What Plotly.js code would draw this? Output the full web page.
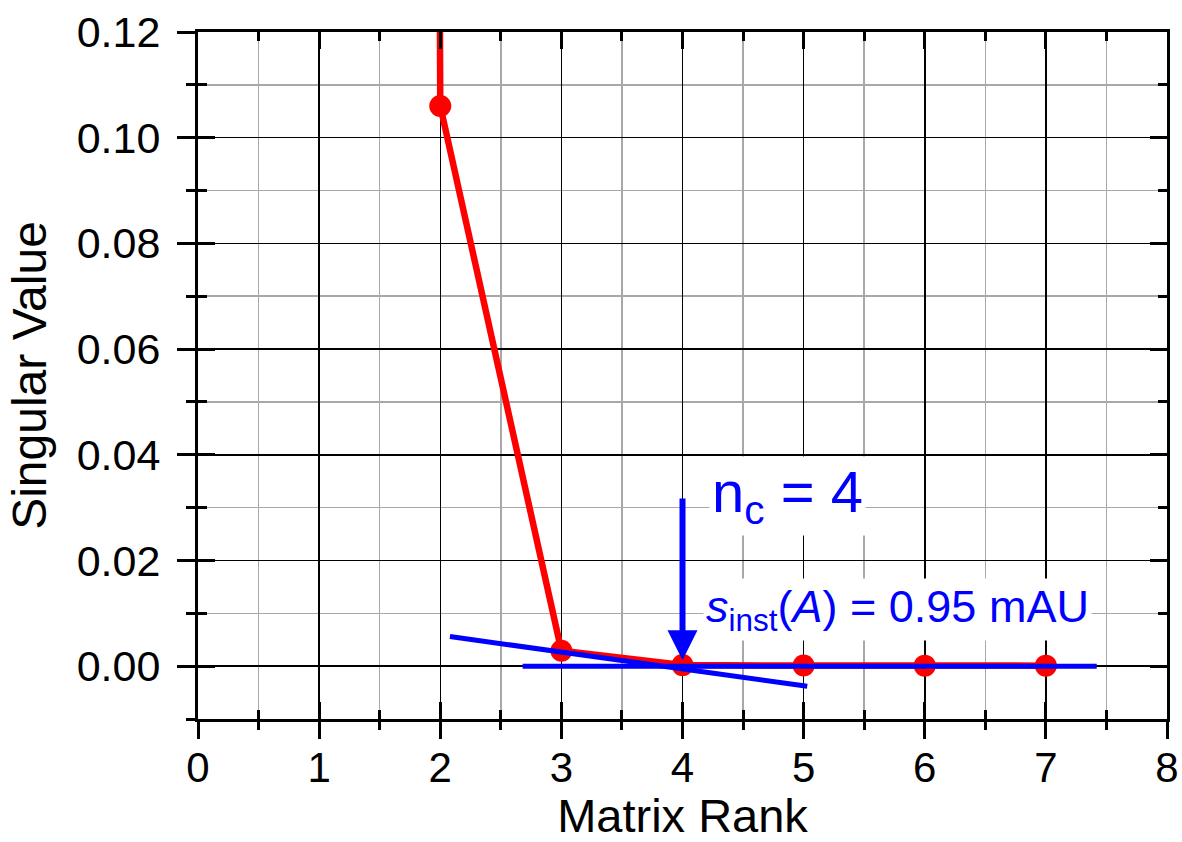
<!DOCTYPE html>
<html><head><meta charset="utf-8">
<script src="https://cdn.plot.ly/plotly-3.0.1.min.js"></script>
<style>html,body{margin:0;padding:0;background:#fff}</style>
</head><body><div id="chart" style="width:1182px;height:842px"></div>
<script>
// ---- data ----
const rank = [1, 2, 3, 4, 5, 6, 7];
const singularValue = [6.0, 0.106, 0.0029, 0.0002, 0.00012, 0.0001, 0.0001];
const fitX = [2.08, 5.03];
const fitY = [0.0056, -0.0038];
const baseX = [2.68, 7.42];
const baseY = [0, 0];
const xRange = [0, 8];
const yRange = [-0.01, 0.12];
const arrowTip = [4, 0.0011];
const arrowTail = [4, 0.032];
const ncLabel = 'n<sub>c</sub> = 4';
const ncPos = [4.22, 0.0322];
const sLabel = '<i>s</i><sub>inst</sub>(<i>A</i>) = 0.95 mAU';
const sPos = [4.17, 0.0107];
const xTitle = 'Matrix Rank';
const yTitle = 'Singular Value';

const FONT = 'Liberation Sans, Arial, sans-serif';
const RED = '#ff0000', BLUE = '#0000ff';

const traces = [
  {x: rank, y: singularValue, type: 'scatter', mode: 'lines+markers',
   line: {color: RED, width: 6.5}, marker: {color: RED, size: 22},
   xaxis: 'x', yaxis: 'y', hoverinfo: 'skip'},
  {x: fitX, y: fitY, type: 'scatter', mode: 'lines',
   line: {color: BLUE, width: 5}, xaxis: 'x2', yaxis: 'y2', hoverinfo: 'skip'},
  {x: baseX, y: baseY, type: 'scatter', mode: 'lines',
   line: {color: BLUE, width: 5}, xaxis: 'x2', yaxis: 'y2', hoverinfo: 'skip'}
];

const common = {tickcolor: '#000', tickwidth: 3, zeroline: false};

const layout = {
  width: 1182, height: 842,
  margin: {l: 198, r: 15, t: 32, b: 123},
  paper_bgcolor: '#fff', plot_bgcolor: '#fff',
  showlegend: false,
  font: {family: FONT, color: '#000'},
  xaxis: Object.assign({}, common, {
    range: xRange, tick0: 0, dtick: 1, ticks: 'inside', ticklen: 17,
    showline: true, linewidth: 3, linecolor: '#000', mirror: 'ticks',
    showgrid: true, gridcolor: '#000', gridwidth: 1.5, showticklabels: false,
    minor: {dtick: 0.5, ticks: 'inside', ticklen: 9, tickwidth: 3, tickcolor: '#000',
            showgrid: true, gridcolor: '#a8a8a8', gridwidth: 1.5}
  }),
  yaxis: Object.assign({}, common, {
    range: yRange, tick0: 0, dtick: 0.02, ticks: 'inside', ticklen: 17,
    showline: true, linewidth: 3, linecolor: '#000', mirror: 'ticks',
    showgrid: true, gridcolor: '#000', gridwidth: 1.5, showticklabels: false,
    minor: {dtick: 0.01, ticks: 'inside', ticklen: 9, tickwidth: 3, tickcolor: '#000',
            showgrid: true, gridcolor: '#a8a8a8', gridwidth: 1.5}
  }),
  xaxis2: Object.assign({}, common, {
    overlaying: 'x', anchor: 'y2', side: 'bottom',
    range: xRange, tick0: 0, dtick: 1, ticks: 'outside', ticklen: 19,
    showline: false, showgrid: false, ticklabelstandoff: -7,
    tickfont: {family: FONT, size: 42, color: '#000'},
    minor: {dtick: 0.5, ticks: 'outside', ticklen: 10, tickwidth: 3, tickcolor: '#000', showgrid: false},
    title: {text: xTitle, font: {family: FONT, size: 47, color: '#000'}, standoff: 8}
  }),
  yaxis2: Object.assign({}, common, {
    overlaying: 'y', anchor: 'x2', side: 'left',
    range: yRange, tick0: 0, dtick: 0.02, tickformat: '.2f', ticks: 'outside', ticklen: 20,
    showline: false, showgrid: false, ticklabelstandoff: 8,
    tickfont: {family: FONT, size: 43, color: '#000'},
    minor: {dtick: 0.01, ticks: 'outside', ticklen: 11, tickwidth: 3, tickcolor: '#000', showgrid: false},
    title: {text: yTitle, font: {family: FONT, size: 48, color: '#000'}, standoff: 14}
  }),
  annotations: [
    {x: arrowTip[0], y: arrowTip[1], ax: arrowTail[0], ay: arrowTail[1],
     xref: 'x', yref: 'y', axref: 'x', ayref: 'y', text: '',
     showarrow: true, arrowhead: 2, arrowsize: 1.0, arrowwidth: 6, arrowcolor: BLUE},
    {x: ncPos[0], y: ncPos[1], xref: 'x', yref: 'y', text: ncLabel, showarrow: false,
     xanchor: 'left', yanchor: 'middle', bgcolor: '#fff', borderpad: 2,
     font: {family: FONT, size: 58, color: BLUE}},
    {x: sPos[0], y: sPos[1], xref: 'x', yref: 'y', text: sLabel, showarrow: false,
     xanchor: 'left', yanchor: 'middle', bgcolor: '#fff', borderpad: 2,
     font: {family: FONT, size: 45, color: BLUE}}
  ]
};

Plotly.newPlot('chart', traces, layout, {staticPlot: true, displayModeBar: false});
</script>
</body></html>
